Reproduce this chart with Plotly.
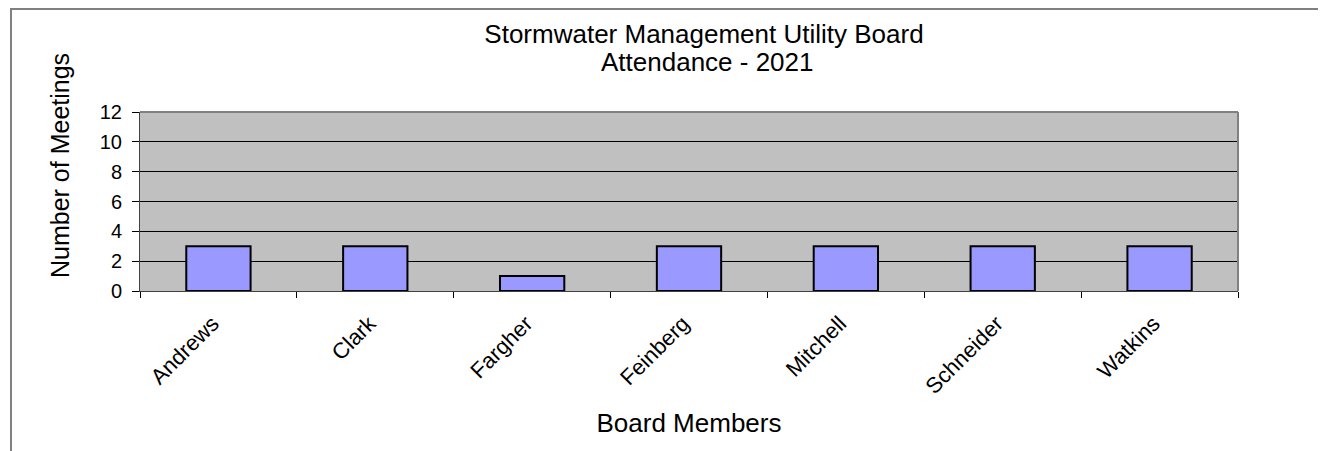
import plotly.graph_objects as go

members = ["Andrews", "Clark", "Fargher", "Feinberg", "Mitchell", "Schneider", "Watkins"]
meetings = [3, 3, 1, 3, 3, 3, 3]
y_ticks = [0, 2, 4, 6, 8, 10, 12]

title_line1 = "Stormwater Management Utility Board"
title_line2 = "Attendance - 2021"
x_title = "Board Members"
y_title = "Number of Meetings"

# page body has an 8px margin, so figure coords = screen coords - 8
OFF = 8
W, H = 1326 - OFF, 451 - OFF
ml = 140 - OFF
mt = 112 - OFF
mr = W - (1238 - OFF)
mb = H - (291 - OFF)
pw = W - ml - mr
ph = H - mt - mb


def sx(px):
    """screen x pixel -> paper x"""
    return (px - OFF - ml) / pw


def sy(py):
    """screen y pixel -> paper y"""
    return (H - mb - (py - OFF)) / ph


FONT = "Liberation Sans, Arial, sans-serif"

fig = go.Figure()
fig.add_trace(go.Bar(
    x=members, y=meetings,
    marker=dict(color="#9999FF", line=dict(color="#000000", width=2)),
    width=0.41,
))

fig.update_layout(
    width=W, height=H,
    margin=dict(l=ml, r=mr, t=mt, b=mb, pad=0, autoexpand=False),
    paper_bgcolor="white",
    plot_bgcolor="#C0C0C0",
    showlegend=False,
    font=dict(family=FONT, color="black"),
    title=dict(text=title_line1, x=(704 - OFF) / W, xanchor="center",
               y=1 - (34 - OFF) / H, yanchor="middle", font=dict(size=26, family=FONT)),
    xaxis=dict(
        type="category", tickson="boundaries", ticks="outside", ticklen=6,
        tickcolor="#000000", tickwidth=1, tickangle=-45,
        tickfont=dict(size=22), showgrid=False, showline=True, linecolor="#404040",
        linewidth=1, range=[-0.5, 6.5],
        ticklabelstandoff=10, ticklabelshift=-6,
        title=dict(text=x_title, font=dict(size=26), standoff=16),
    ),
    yaxis=dict(
        range=[0, 12], tickvals=y_ticks, ticks="outside", ticklen=7,
        tickcolor="#000000", tickfont=dict(size=20), showgrid=True,
        gridcolor="#000000", gridwidth=1, showline=True, linecolor="#404040",
        linewidth=1, zeroline=False, ticklabelstandoff=6,
    ),
    annotations=[
        dict(text=title_line2, xref="paper", yref="paper", x=sx(707), y=sy(62),
             xanchor="center", yanchor="middle", showarrow=False,
             font=dict(size=26, family=FONT)),
        dict(text=y_title, xref="paper", yref="paper", x=sx(60), y=sy(165),
             xanchor="center", yanchor="middle", showarrow=False, textangle=-90,
             font=dict(size=25, family=FONT)),
    ],
    shapes=[
        dict(type="rect", xref="paper", yref="paper",
             x0=sx(11), x1=sx(1340),
             y0=sy(480), y1=sy(9),
             line=dict(color="#808080", width=2), fillcolor="rgba(0,0,0,0)", layer="below"),
        dict(type="line", xref="paper", yref="paper", x0=0, x1=1, y0=1, y1=1,
             line=dict(color="#808080", width=2)),
        dict(type="line", xref="paper", yref="paper", x0=1, x1=1, y0=0, y1=1,
             line=dict(color="#808080", width=2)),
    ],
)

fig.write_html("out.html")
